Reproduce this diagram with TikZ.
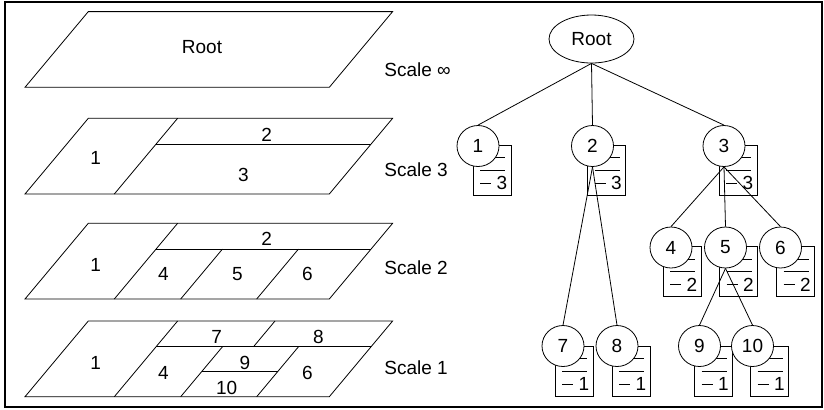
\documentclass[tikz,border=0pt]{standalone}
\usepackage{fontspec}
\setmainfont{Liberation Sans}
\usetikzlibrary{positioning, shapes.geometric, backgrounds}

\begin{document}
\begin{tikzpicture}[
    x=0.5pt, y=-0.5pt,
    every node/.style={font=\fontsize{9.5}{11}\selectfont},
    layer/.style={y={(31.65pt,37.85pt)}},
    txt/.style={inner sep=0pt},
    vec/.style={ellipse, draw, fill=white, minimum width=21pt, minimum height=20.5pt, inner sep=0pt},
    pics/doc/.style={code={
        \draw[fill=white] (0,0) -- (38,0) -- (38,50) -- (0,50) -- cycle;
        \draw (7,12.7) -- (32,12.7);
        \draw (7,25) -- (32,25);
        \draw (7,38) -- (18,38);
        \node[txt] at (29,38) {#1};
    }},
    ]

   \useasboundingbox (0,0) rectangle (824,409);
   \draw[line width=1pt] (5,2) rectangle (822,407);

   % Scale infinity
   \begin{scope}[shift={(25,87.3)}, layer]
      \draw (0,0) -- (304.3,0) -- (304.3,1) -- (0,1) -- cycle;
   \end{scope}
   \node[txt] (l_root) at (202,46.7) {Root};
   \node[txt, anchor=west] (s_inf) at (384,70) {Scale ∞};

   % Scale 3
   \begin{scope}[shift={(25,194)}, layer]
      \draw (0,0) -- (304.3,0) -- (304.3,1) -- (0,1) -- cycle;
      \draw (89.3,0) -- (89.3,1);
      \draw (89.3,0.66) -- (304.3,0.66);
   \end{scope}
   \node[txt] (l3_1) at (95.7,157.7) {1};
   \node[txt] (l3_2) at (266.7,135) {2};
   \node[txt] (l3_3) at (243.3,175) {3};
   \node[txt, anchor=west] (s_3) at (384,170) {Scale 3};

   % Scale 2
   \begin{scope}[shift={(25,299)}, layer]
      \draw (0,0) -- (304.3,0) -- (304.3,1) -- (0,1) -- cycle;
      \draw (89.3,0) -- (89.3,1);
      \draw (89.3,0.66) -- (304.3,0.66);
      \draw (155.7,0) -- (155.7,0.66);
      \draw (231.7,0) -- (231.7,0.66);
   \end{scope}
   \node[txt] (l2_1) at (95.7,265) {1};
   \node[txt] (l2_2) at (266.7,239.3) {2};
   \node[txt] (l2_4) at (163.3,274) {4};
   \node[txt] (l2_5) at (237.3,274) {5};
   \node[txt] (l2_6) at (307.3,274) {6};
   \node[txt, anchor=west] (s_2) at (384,268) {Scale 2};

   % Scale 1
   \begin{scope}[shift={(25,396.7)}, layer]
      \draw (0,0) -- (304.3,0) -- (304.3,1) -- (0,1) -- cycle;
      \draw (89.3,0) -- (89.3,1);
      \draw (89.3,0.66) -- (304.3,0.66);
      \draw (155.7,0) -- (155.7,0.66);
      \draw (231.7,0) -- (231.7,0.66);
      \draw (186.7,0.66) -- (186.7,1);
      \draw (155.7,0.33) -- (231.7,0.33);
   \end{scope}
   \node[txt] (l1_1) at (95.7,363.3) {1};
   \node[txt] (l1_7) at (216.7,336.7) {7};
   \node[txt] (l1_8) at (318.3,336.7) {8};
   \node[txt] (l1_4) at (163.3,373.3) {4};
   \node[txt] (l1_9) at (245,363.3) {9};
   \node[txt] (l1_10) at (226.7,388.3) {10};
   \node[txt] (l1_6) at (307.3,373.3) {6};
   \node[txt, anchor=west] (s_1) at (384,368) {Scale 1};

   % Tree
   \node[vec, minimum width=42.5pt, minimum height=24pt] (root) at (591.5,39) {Root};
   \node[vec] (n1) at (478,146) {1};
   \node[vec] (n2) at (592.5,146) {2};
   \node[vec] (n3) at (724,146) {3};
   \node[vec] (n4) at (671,247.5) {4};
   \node[vec] (n5) at (725.5,247.5) {5};
   \node[vec] (n6) at (780.5,247.5) {6};
   \node[vec] (n7) at (563,346) {7};
   \node[vec] (n8) at (617,346) {8};
   \node[vec] (n9) at (699.5,346) {9};
   \node[vec] (n10) at (752.5,346) {10};

   \draw (root.south) -- (n1.north);
   \draw (root.south) -- (n2.north);
   \draw (root.south) -- (n3.north);
   \draw (n2.south) -- (n7.north);
   \draw (n2.south) -- (n8.north);
   \draw (n3.south) -- (n4.north);
   \draw (n3.south) -- (n5.north);
   \draw (n3.south) -- (n6.north);
   \draw (n5.south) -- (n9.north);
   \draw (n5.south) -- (n10.north);

   % Documents behind the tree nodes.
   \begin{pgfonlayer}{background}
      \pic at ([shift={(-5,-1)}]n1.center) {doc=3};
      \pic at ([shift={(-5,-1)}]n2.center) {doc=3};
      \pic at ([shift={(-5,-1)}]n3.center) {doc=3};
      \pic at ([shift={(-8,-1)}]n4.center) {doc=2};
      \pic at ([shift={(-6,-1)}]n5.center) {doc=2};
      \pic at ([shift={(-4,-1)}]n6.center) {doc=2};
      \pic at ([shift={(-8,0)}]n7.center) {doc=1};
      \pic at ([shift={(-5,0)}]n8.center) {doc=1};
      \pic at ([shift={(-5,0)}]n9.center) {doc=1};
      \pic at ([shift={(-2,0)}]n10.center) {doc=1};
   \end{pgfonlayer}

\end{tikzpicture}
\end{document}
